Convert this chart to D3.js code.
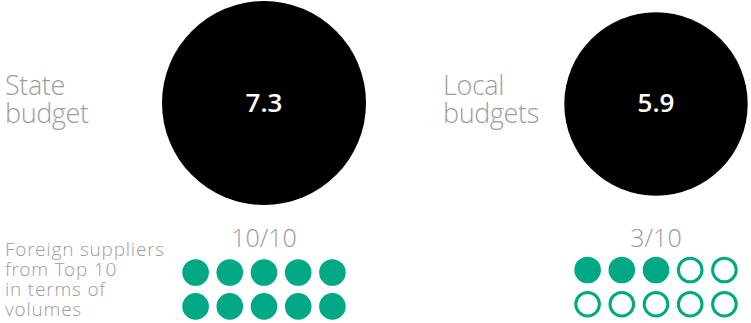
<!DOCTYPE html>
<html>
<head>
<meta charset="utf-8">
<script src="https://cdn.jsdelivr.net/npm/d3@7"></script>
<style>
  html, body { margin: 0; padding: 0; background: #fff; }
  svg { display: block; font-family: "Open Sans", sans-serif; }
  .light { font-family: "Open Sans Light", "Open Sans", sans-serif; font-weight: 300; }
</style>
</head>
<body>
<svg id="chart" width="751" height="323"></svg>
<script>
// ---- data ----
const budgetNames = ["State budget", "Local budgets"];
const budgetLabelLines = [["State", "budget"], ["Local", "budgets"]];
const budgetValues = [7.3, 5.9];
const foreignCounts = [10, 3];
const topTotal = 10;
const sideNoteLines = ["Foreign suppliers", "from Top 10", "in terms of", "volumes"];

// ---- layout ----
const green = "#00a886";
const grey = "#9d9d9d";
const centersX = [264, 656];
const centersY = [103, 104];
const labelX = [5, 443];
const dotRowY = [[272.5, 306.4], [270, 304.2]];

const svg = d3.select("#chart");
const r = d3.scaleSqrt().domain([0, d3.max(budgetValues)]).range([0, 102]);

const groups = svg.selectAll("g.budget")
  .data(budgetValues.map((v, i) => ({ v, i, name: budgetNames[i], lines: budgetLabelLines[i], count: foreignCounts[i] })))
  .join("g").attr("class", "budget");

// big circles
groups.append("circle")
  .attr("cx", d => centersX[d.i])
  .attr("cy", d => centersY[d.i])
  .attr("r", d => r(d.v))
  .attr("fill", "#000");

// values
groups.append("text")
  .attr("x", d => centersX[d.i])
  .attr("y", 112)
  .attr("text-anchor", "middle")
  .attr("fill", "#fff")
  .attr("font-size", 26)
  .attr("font-weight", 600)
  .text(d => d3.format(".1f")(d.v));

// budget labels
groups.append("text")
  .attr("class", "light")
  .attr("x", d => labelX[d.i])
  .attr("y", 95)
  .attr("fill", grey)
  .attr("font-size", 27)
  .attr("letter-spacing", -0.4)
  .selectAll("tspan")
  .data(d => d.lines.map((l, k) => ({ l, k, x: labelX[d.i] })))
  .join("tspan")
  .attr("x", t => t.x)
  .attr("dy", t => t.k === 0 ? 0 : 27.5)
  .text(t => t.l);

// fraction label
groups.append("text")
  .attr("class", "light")
  .attr("x", d => centersX[d.i])
  .attr("y", 247)
  .attr("text-anchor", "middle")
  .attr("fill", grey)
  .attr("font-size", 25)
  .text(d => d.count + "/" + topTotal);

// dots
const col = d3.scalePoint().domain(d3.range(5)).range([-68.4, 68.4]);
groups.each(function(d) {
  const g = d3.select(this);
  const dots = d3.range(topTotal).map(j => ({ j, filled: j < d.count }));
  g.selectAll("circle.dot")
    .data(dots)
    .join("circle")
    .attr("class", "dot")
    .attr("cx", p => centersX[d.i] + col(p.j % 5))
    .attr("cy", p => dotRowY[d.i][Math.floor(p.j / 5)])
    .attr("r", p => p.filled ? 13.3 : 11.8)
    .attr("fill", p => p.filled ? green : "none")
    .attr("stroke", p => p.filled ? "none" : green)
    .attr("stroke-width", 3);
});

// side note
svg.append("text")
  .attr("class", "light")
  .attr("x", 5)
  .attr("y", 256)
  .attr("fill", grey)
  .attr("font-size", 19)
  .attr("letter-spacing", 0.8)
  .selectAll("tspan")
  .data(sideNoteLines)
  .join("tspan")
  .attr("x", 5)
  .attr("dy", (l, k) => k === 0 ? 0 : 20)
  .text(l => l);
</script>
</body>
</html>
